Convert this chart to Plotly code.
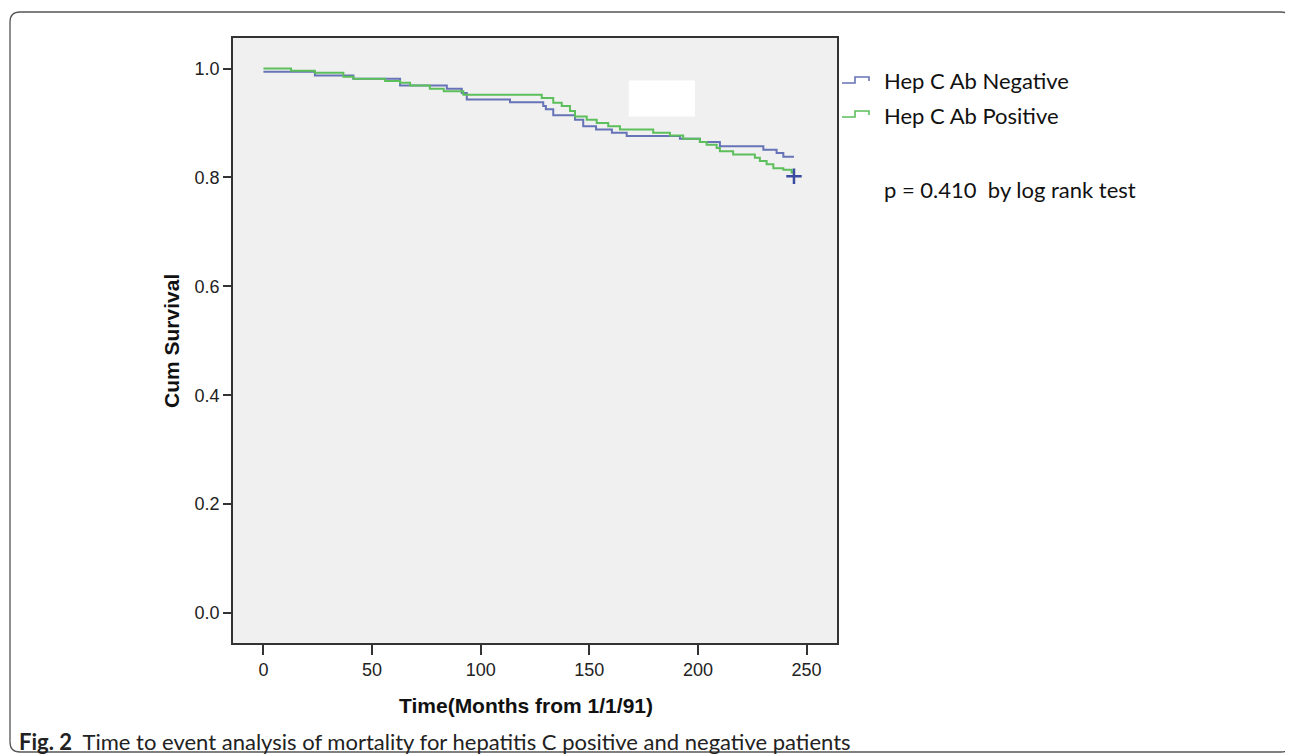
import plotly.graph_objects as go

# ---------------- data ----------------
neg_time = [0, 23.7, 41.4, 62.9, 84.4, 91.3, 93.6, 113.5, 128.8, 130.0, 133.4, 143.4, 147.2,
            153.1, 160.4, 167.2, 191.7, 200.9, 210.1, 230.1, 236.2, 239.3, 244.2]
neg_surv = [0.994, 0.987, 0.981, 0.969, 0.963, 0.955, 0.943, 0.938, 0.931, 0.925, 0.914, 0.906, 0.894,
            0.888, 0.882, 0.876, 0.871, 0.865, 0.857, 0.851, 0.845, 0.838, 0.838]

pos_time = [0, 12.7, 23.7, 36.8, 41.4, 56.0, 62.9, 67.5, 76.6, 83.0, 92.0, 128.1, 133.4, 137.3,
            141.1, 143.4, 148.8, 153.4, 158.7, 164.1, 179.4, 187.1, 193.2, 200.9, 204.0, 208.6,
            210.1, 216.2, 226.2, 228.5, 231.6, 234.7, 239.3, 243.1, 244.2]
pos_surv = [1.0, 0.996, 0.992, 0.985, 0.981, 0.977, 0.974, 0.969, 0.963, 0.958, 0.952, 0.946, 0.937, 0.931,
            0.922, 0.912, 0.906, 0.900, 0.894, 0.888, 0.882, 0.877, 0.871, 0.865, 0.860, 0.854,
            0.848, 0.842, 0.836, 0.830, 0.824, 0.817, 0.814, 0.809, 0.809]

censor_time = [244.2]
censor_surv = [0.802]

x_ticks = [0, 50, 100, 150, 200, 250]
y_ticks = [0.0, 0.2, 0.4, 0.6, 0.8, 1.0]
y_tick_text = ["0.0", "0.2", "0.4", "0.6", "0.8", "1.0"]

series_names = ["Hep C Ab Negative", "Hep C Ab Positive"]
p_text = "p = 0.410  by log rank test"
x_title = "Time(Months from 1/1/91)"
y_title = "Cum Survival"
caption_bold = "Fig. 2"
caption_text = "Time to event analysis of mortality for hepatitis C positive and negative patients"

# ---------------- layout geometry ----------------
W, H = 1293, 754
OFF = 8                          # page body margin offset
L, R, T, B = 233, 837, 38, 643   # plot area in screenshot pixels


def px(x):
    return (x - L) / (R - L)


def py(y):
    return (B - y) / (B - T)


BLUE = "#6673b6"
GREEN = "#5cbf5c"
AXIS_FONT = "Liberation Sans Narrow, Arial Narrow, Liberation Sans, Arial, sans-serif"
TEXT_FONT = "Lato, Carlito, Calibri, sans-serif"

fig = go.Figure()
fig.add_trace(go.Scatter(x=neg_time, y=neg_surv, mode="lines", line_shape="hv",
                         line=dict(color=BLUE, width=2), name=series_names[0], showlegend=False))
fig.add_trace(go.Scatter(x=pos_time, y=pos_surv, mode="lines", line_shape="hv",
                         line=dict(color=GREEN, width=2), name=series_names[1], showlegend=False))
fig.add_trace(go.Scatter(x=censor_time, y=censor_surv, mode="markers",
                         marker=dict(symbol="cross-thin", size=11, line=dict(color="#3a4aa0", width=2.5)),
                         showlegend=False, hoverinfo="skip"))

shapes = []
# white masking box inside plot
shapes.append(dict(type="rect", xref="x", yref="y", x0=168.2, x1=198.6, y0=0.912, y1=0.978,
                   fillcolor="white", line=dict(width=0), layer="above"))

# legend step icons
for yc, col in [(81, BLUE), (115, GREEN)]:
    path = (f"M {px(842)},{py(yc + 2)} L {px(855)},{py(yc + 2)} L {px(855)},{py(yc - 4)} "
            f"L {px(869)},{py(yc - 4)} L {px(869)},{py(yc)}")
    shapes.append(dict(type="path", xref="paper", yref="paper", path=path,
                       line=dict(color=col, width=1.6)))

# rounded outer frame
x0, x1, y0, y1, r = 10, 1291, 12, 752, 10
frame = (f"M {px(x0 + r)},{py(y0)} L {px(x1 - r)},{py(y0)} Q {px(x1)},{py(y0)} {px(x1)},{py(y0 + r)} "
         f"L {px(x1)},{py(y1 - r)} Q {px(x1)},{py(y1)} {px(x1 - r)},{py(y1)} "
         f"L {px(x0 + r)},{py(y1)} Q {px(x0)},{py(y1)} {px(x0)},{py(y1 - r)} "
         f"L {px(x0)},{py(y0 + r)} Q {px(x0)},{py(y0)} {px(x0 + r)},{py(y0)} Z")
shapes.append(dict(type="path", xref="paper", yref="paper", path=frame,
                   line=dict(color="#555555", width=1.3)))

annotations = [
    dict(x=px(882), y=py(81), xref="paper", yref="paper", text=series_names[0], showarrow=False,
         xanchor="left", yanchor="middle", font=dict(family=TEXT_FONT, size=22, color="#111")),
    dict(x=px(882), y=py(115), xref="paper", yref="paper", text=series_names[1], showarrow=False,
         xanchor="left", yanchor="middle", font=dict(family=TEXT_FONT, size=22, color="#111")),
    dict(x=px(882), y=py(189), xref="paper", yref="paper", text=p_text.replace("  ", "&nbsp; "),
         showarrow=False, xanchor="left", yanchor="middle",
         font=dict(family=TEXT_FONT, size=22, color="#111")),
    dict(x=px(526), y=py(705), xref="paper", yref="paper", text=f"<b>{x_title}</b>", showarrow=False,
         xanchor="center", yanchor="middle", font=dict(family=AXIS_FONT, size=21, color="#111")),
    dict(x=px(171), y=py(341), xref="paper", yref="paper", text=f"<b>{y_title}</b>", showarrow=False,
         textangle=-90, xanchor="center", yanchor="middle",
         font=dict(family=AXIS_FONT, size=21, color="#111")),
    dict(x=px(17), y=py(741), xref="paper", yref="paper",
         text=f"<b>{caption_bold}</b>&nbsp;&nbsp;{caption_text}", showarrow=False,
         xanchor="left", yanchor="middle", font=dict(family="Lato, Open Sans, sans-serif", size=22, color="#222")),
]

fig.update_layout(
    width=W, height=H,
    margin=dict(l=L - OFF, r=W - (R - OFF), t=T - OFF, b=H - (B - OFF), pad=0),
    paper_bgcolor="white", plot_bgcolor="#f0f0f0",
    shapes=shapes, annotations=annotations, showlegend=False,
)
fig.update_xaxes(range=[-14.0, 264.0], tickvals=x_ticks, ticks="outside", ticklen=10, tickwidth=1.5,
                 tickcolor="#333", showline=True, linecolor="#333", linewidth=1.5, mirror=True,
                 showgrid=False, zeroline=False,
                 tickfont=dict(family=AXIS_FONT, size=18, color="#222"))
fig.update_yaxes(range=[-0.055, 1.056], tickvals=y_ticks, ticktext=y_tick_text, ticks="outside",
                 ticklen=8, tickwidth=1.5, tickcolor="#333", showline=True, linecolor="#333",
                 linewidth=1.5, mirror=True, showgrid=False, zeroline=False,
                 tickfont=dict(family=AXIS_FONT, size=18, color="#222"))

fig.write_html("out.html")
